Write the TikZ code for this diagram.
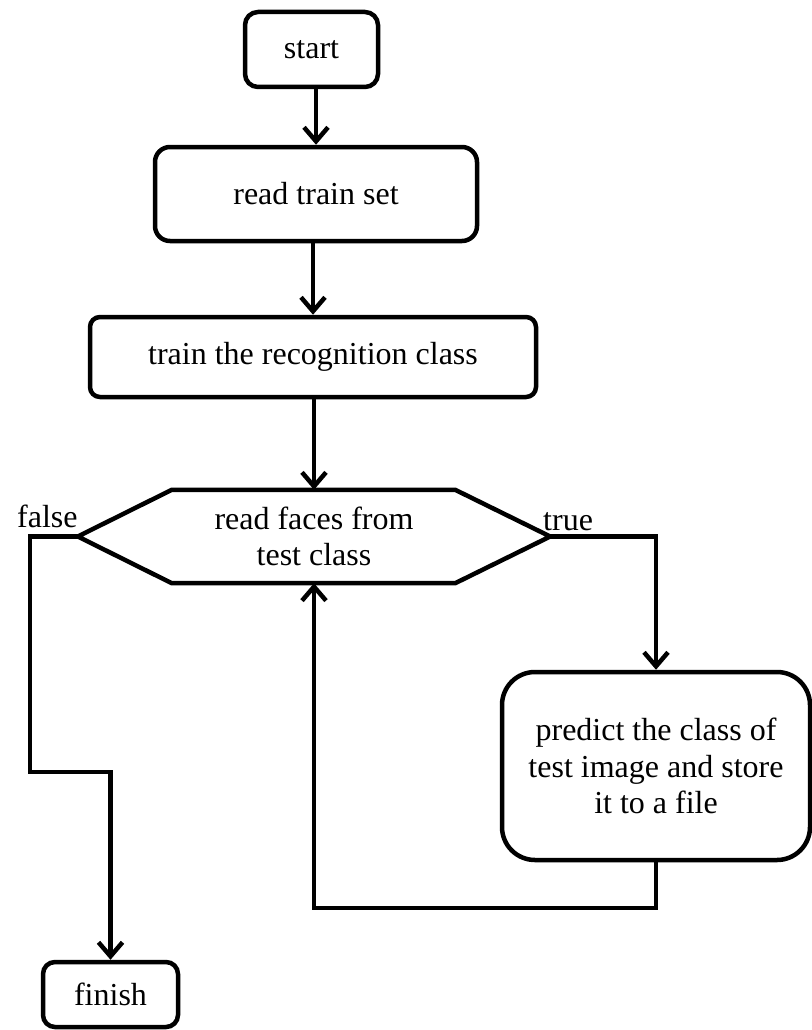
\documentclass[tikz,border=0pt]{standalone}
\usepackage{fontspec}
\setmainfont{Liberation Serif}
\usetikzlibrary{arrows.meta}
\begin{document}
\begin{tikzpicture}[x=1pt,y=-1pt,
  txt/.style={font=\fontsize{32}{36.7}\selectfont},
  box/.style={draw, line width=4.5pt, rounded corners=#1, inner sep=0pt, align=center, txt},
  box/.default=12pt,
  lbl/.style={inner sep=0pt, txt},
  edge/.style={line width=4.5pt, line join=miter},
  arr/.style={edge, -{Straight Barb[length=14pt,width=24pt,line width=4.5pt]}}
]
\useasboundingbox (0,0) rectangle (811,1030);

\node[box=13pt, minimum width=133pt, minimum height=75pt] (start) at (311.5,49.5) {start};
\node[box=15pt, minimum width=322pt, minimum height=94pt] (read) at (316,194) {read train set};
\node[box=10pt, minimum width=446pt, minimum height=80pt] (train) at (313,357) {train the recognition class};
\node[inner sep=0pt, align=center, txt, minimum width=472pt, minimum height=93pt] (hex) at (314,536.5) {read faces from\\test class};
\draw[edge] (hex.west) -- ([xshift=94pt]hex.north west) -- ([xshift=-95pt]hex.north east) -- (hex.east)
  -- ([xshift=-95pt]hex.south east) -- ([xshift=94pt]hex.south west) -- cycle;
\node[box=33pt, minimum width=308pt, minimum height=188pt] (predict) at (656,766) {predict the class of\\test image and store\\it to a file};
\node[box=12pt, minimum width=135pt, minimum height=65pt] (finish) at (110.5,994.5) {finish};

\node[lbl, anchor=base west] (lfalse) at (17,527) {false};
\node[lbl, anchor=base west] (ltrue) at (543,530) {true};

\coordinate (f1) at (30,772);
\coordinate (loop) at (314,908);

\draw[arr] (start.south -| read.north) -- (read.north);
\draw[arr] (read.south -| train.north) -- (train.north);
\draw[arr] (train.south -| hex.north) -- (hex.north);
\draw[arr] (hex.east) -| (predict.north);
\draw[arr] (predict.south) |- (loop) -- (hex.south);
\draw[arr] (hex.west) -| (f1) -| (finish.north);
\end{tikzpicture}
\end{document}
